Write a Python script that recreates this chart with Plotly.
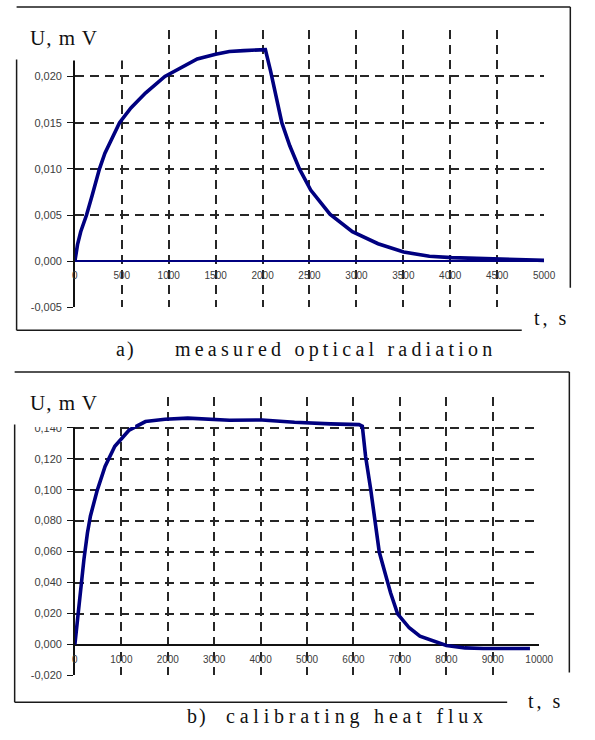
import plotly.graph_objects as go

W, H = 595, 740

# ---------------- data: a) measured optical radiation ----------------
t_a = [0, 28, 62, 124, 183, 235, 262, 320, 373, 420, 476, 597, 752, 959, 1080,
       1304, 1500, 1646, 1800, 2000, 2030, 2085, 2136, 2205, 2290, 2393, 2513,
       2718, 2957, 3231, 3504, 3778, 4017, 4300, 4600, 5000]
u_a = [0.0, 0.0018, 0.0032, 0.0050, 0.0071, 0.0090, 0.0100, 0.0117, 0.0129,
       0.0139, 0.0150, 0.0166, 0.0182, 0.0200, 0.0207, 0.0219, 0.0224, 0.0227,
       0.0228, 0.0229, 0.0229, 0.0206, 0.0183, 0.0150, 0.0125, 0.0100, 0.0077,
       0.0051, 0.0032, 0.0019, 0.0010, 0.00055, 0.0004, 0.0003, 0.0002, 0.0001]

# ---------------- data: b) calibrating heat flux ----------------
t_b = [0, 40, 80, 130, 195, 270, 335, 475, 650, 860, 1170, 1520, 1940, 2430,
       3000, 3330, 4030, 4730, 5500, 6120, 6190, 6260, 6370, 6470, 6555, 6680,
       6800, 6950, 7200, 7430, 7750, 8000, 8400, 8800, 9800]
u_b = [0.0, 0.012, 0.022, 0.035, 0.055, 0.072, 0.083, 0.099, 0.115, 0.128,
       0.1385, 0.144, 0.1455, 0.1462, 0.1455, 0.1448, 0.1450, 0.1435, 0.1425,
       0.1420, 0.1410, 0.1216, 0.1003, 0.0789, 0.0597, 0.0462, 0.0333, 0.0198,
       0.0108, 0.0054, 0.0022, -0.0006, -0.0022, -0.0026, -0.0026]

# ---------------- ticks ----------------
xa_tickvals = [0, 500, 1000, 1500, 2000, 2500, 3000, 3500, 4000, 4500, 5000]
xa_ticktext = ["0", "500", "1000", "1500", "2000", "2500", "3000", "3500", "4000", "4500", "5000"]
ya_tickvals = [-0.005, 0.0, 0.005, 0.010, 0.015, 0.020]
ya_ticktext = ["-0,005", "0,000", "0,005", "0,010", "0,015", "0,020"]
ya_range = [-0.005, 0.025]

xb_tickvals = [0, 1000, 2000, 3000, 4000, 5000, 6000, 7000, 8000, 9000, 10000]
xb_ticktext = ["0", "1000", "2000", "3000", "4000", "5000", "6000", "7000", "8000", "9000", "10000"]
yb_tickvals = [-0.02, 0.0, 0.02, 0.04, 0.06, 0.08, 0.10, 0.12, 0.14, 0.16]
yb_ticktext = ["-0,020", "0,000", "0,020", "0,040", "0,060", "0,080", "0,100", "0,120", "0,140", ""]
yb_range = [-0.02, 0.16]

y_label = "U, m V"
x_label = "t, s"
cap_a_tag, cap_a = "a)", "measured optical radiation"
cap_b_tag, cap_b = "b)", "calibrating heat flux"


def fx(p):
    return p / W


def fy(p):
    return 1 - p / H


CURVE = "#000080"
GRID = "#262626"
TICKFONT_Y = dict(family="Liberation Sans, Arial", size=11, color="#3c3c3c")
TICKFONT_X = dict(family="Liberation Sans, Arial", size=10, color="#3c3c3c")
SERIF = "Liberation Serif, Times New Roman"

dom_xa = [fx(74), fx(557)]
dom_ya = [fy(310), fy(30.5)]
dom_xb = [fx(74), fx(552)]
dom_yb = [fy(681), fy(400)]


def zero_pos(dom, rng):
    return dom[0] + (0 - rng[0]) / (rng[1] - rng[0]) * (dom[1] - dom[0])


fig = go.Figure()
fig.add_trace(go.Scatter(x=t_a, y=u_a, mode="lines", xaxis="x", yaxis="y",
                         line=dict(color=CURVE, width=3.6), showlegend=False,
                         hoverinfo="skip"))
fig.add_trace(go.Scatter(x=t_b, y=u_b, mode="lines", xaxis="x2", yaxis="y2",
                         line=dict(color=CURVE, width=3.6), showlegend=False,
                         hoverinfo="skip"))

common_x = dict(showgrid=True, gridcolor=GRID, gridwidth=2, griddash="9px,6px",
                zeroline=False, showline=False, ticks="", anchor="free",
                ticklabelstandoff=7, fixedrange=True)
common_y = dict(showgrid=True, gridcolor=GRID, gridwidth=2, griddash="9px,6px",
                zeroline=True, zerolinewidth=1.5, showline=True, linecolor="#111",
                linewidth=1.5, ticks="outside", ticklen=6, tickwidth=1.2,
                tickcolor="#111", ticklabelstandoff=3, fixedrange=True,
                tickfont=TICKFONT_Y)

fig.update_layout(
    width=W, height=H, margin=dict(l=0, r=0, t=0, b=0),
    paper_bgcolor="white", plot_bgcolor="white", showlegend=False,
    xaxis=dict(domain=dom_xa, range=[0, 5000], tickvals=xa_tickvals,
               ticktext=xa_ticktext, position=zero_pos(dom_ya, ya_range),
               tickfont=TICKFONT_X, **common_x),
    yaxis=dict(domain=dom_ya, range=ya_range, tickvals=ya_tickvals,
               ticktext=ya_ticktext, anchor="x", zerolinecolor=CURVE, **common_y),
    xaxis2=dict(domain=dom_xb, range=[0, 10000], tickvals=xb_tickvals,
                ticktext=xb_ticktext, position=zero_pos(dom_yb, yb_range),
                tickfont=TICKFONT_X, **common_x),
    yaxis2=dict(domain=dom_yb, range=yb_range, tickvals=yb_tickvals,
                ticktext=yb_ticktext, anchor="x2", zerolinecolor="#111", **common_y),
)

shapes = []


def box(x0, y0, x1, y1):
    shapes.append(dict(type="rect", xref="paper", yref="paper", layer="above",
                       x0=fx(x0), x1=fx(x1), y0=fy(y1), y1=fy(y0),
                       fillcolor="white", line=dict(width=0)))


def line(x0, y0, x1, y1):
    shapes.append(dict(type="line", xref="paper", yref="paper", layer="above",
                       x0=fx(x0), x1=fx(x1), y0=fy(y0), y1=fy(y1),
                       line=dict(color="#1a1a1a", width=1.5)))


# white label areas (cover grid like in the original figure)
box(0, 8.5, 138, 61)
box(535, 289, 595, 346)
box(0, 376.5, 136, 430.5)
box(519, 679, 595, 722)

# frame a)
line(14, 7, 584, 7)
line(584, 7, 584, 290)
line(14, 60, 14, 333)
line(14, 333, 534, 333)
# frame b)
line(12, 375, 583, 375)
line(583, 375, 583, 678)
line(12, 428, 12, 708)
line(12, 708, 519, 708)

fig.update_layout(shapes=shapes)

ann = []


def text(s, x, y, size, xanchor="left", spacing=None):
    if spacing:
        s = "<span style='letter-spacing:%spx'>%s</span>" % (spacing, s)
    ann.append(dict(text=s, x=fx(x), y=fy(y), xref="paper", yref="paper",
                    xanchor=xanchor, yanchor="middle", showarrow=False,
                    font=dict(family=SERIF, size=size, color="#111")))


text(y_label, 26, 38, 21, spacing=1)
text(y_label, 26, 406, 21, spacing=1)
text(x_label, 545, 321, 20, spacing=3)
text(x_label, 538, 707, 20, spacing=3)
text(cap_a_tag, 114, 352, 20, spacing=2)
text(cap_a, 175, 352, 20, spacing=4.2)
text(cap_b_tag, 187, 722, 20, spacing=2)
text(cap_b, 228, 722, 20, spacing=4.8)

fig.update_layout(annotations=ann)

fig.write_html("out.html", config={"displayModeBar": False},
               post_script="document.body.style.margin='0';")
